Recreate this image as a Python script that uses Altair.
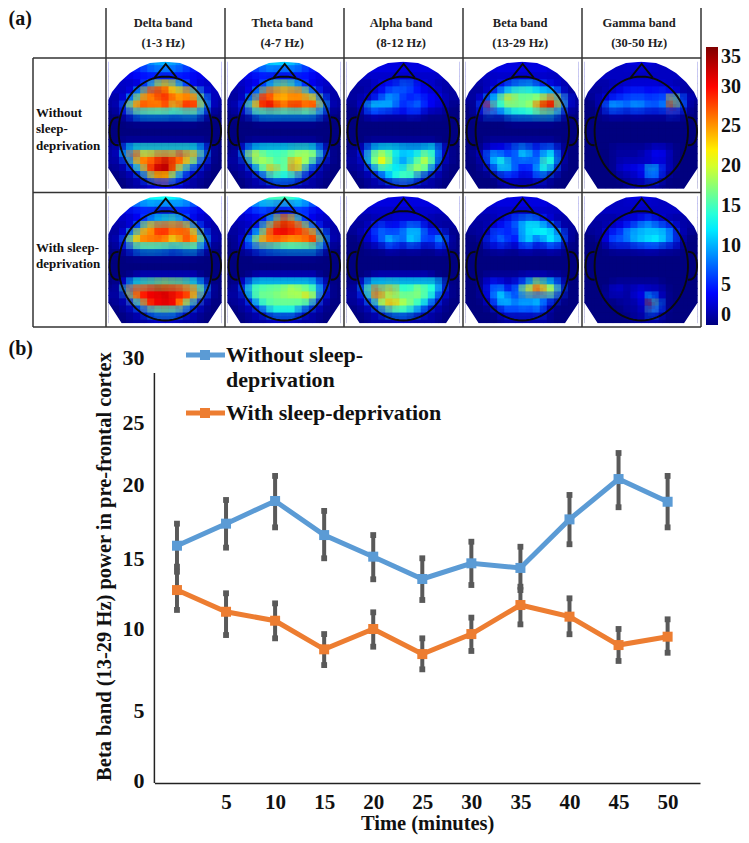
import math
import altair as alt
import pandas as pd

Z = [0] * 16
delta_without = [
 [4,4,4,5,6,8,9,10,10,9,8,6,5,4,4,4],[3,3,4,4,5,6,7,7,7,7,6,5,4,4,3,3],[2,2,3,3,4,4,4,3,3,4,4,4,3,3,2,2],
 [2,2,2,2,3,8,16,21,22,18,10,5,3,2,2,2],[2,2,2,4,13,26,30,31,28,23,25,24,15,5,2,2],[1,1,4,13,25,26,24,27,28,26,25,27,26,14,3,1],
 [1,2,8,22,28,27,27,26,28,19,29,29,28,14,3,1],[0,1,3,8,12,13,13,13,13,11,13,13,13,6,1,0],[0,0,0,1,1,1,1,1,1,1,1,1,1,0,0,0],
 Z,Z,[0,0,1,1,1,1,1,1,1,1,1,1,1,1,0,0],[1,2,8,13,14,14,14,14,14,14,14,14,13,8,2,0],[1,2,12,30,26,23,26,27,27,26,30,24,26,10,1,0],
 [1,1,3,13,24,28,28,32,33,28,24,18,11,4,1,0],[0,1,1,4,12,25,31,33,32,25,14,6,3,1,0,0],[0,0,1,1,3,9,20,24,22,12,5,2,1,1,0,0],[0,0,0,1,1,2,3,4,4,3,2,1,1,0,0,0]]
delta_with = [
 [5,6,8,10,11,12,13,13,13,12,11,10,8,6,5,4],[3,4,5,6,7,8,8,7,7,8,8,7,5,4,3,3],[2,2,3,3,4,4,3,2,2,3,4,4,3,3,2,2],
 [2,2,2,3,4,8,11,13,14,15,11,5,3,2,2,2],[1,1,2,3,10,22,26,28,28,27,28,20,9,3,1,1],[1,1,4,14,24,26,26,30,27,25,27,28,22,9,2,1],
 [1,2,8,21,25,26,26,25,24,20,26,27,25,12,2,1],[0,1,3,8,12,13,13,12,11,9,12,13,13,5,1,0],[0,0,0,1,1,1,1,1,1,1,1,1,1,0,0,0],
 Z,Z,[0,0,0,1,2,2,2,2,2,2,2,2,2,0,0,0],[0,1,4,13,14,16,16,18,18,17,17,15,13,7,1,0],[1,1,15,30,28,30,31,33,31,31,29,27,26,14,2,0],
 [1,1,3,18,28,30,31,30,32,29,29,27,18,5,1,0],[0,1,1,5,13,26,30,31,31,30,22,13,5,1,0,0],[0,0,1,1,3,8,13,14,14,13,7,3,1,1,0,0],[0,0,0,1,1,1,2,2,2,2,1,1,1,0,0,0]]
theta_without = [
 [4,4,5,6,8,10,11,11,11,10,8,6,5,4,4,3],[3,3,4,5,6,7,7,6,6,7,6,5,4,3,3,3],[2,2,3,3,4,4,3,3,3,3,4,4,3,3,2,2],
 [2,2,2,3,4,9,14,17,17,14,9,4,3,2,2,2],[1,1,2,4,12,26,28,26,26,27,25,15,7,3,1,1],[1,1,3,12,28,30,25,23,24,25,25,26,22,9,2,1],
 [1,2,6,18,25,31,31,28,27,31,28,26,30,14,2,1],[0,1,2,7,12,13,13,13,13,13,13,13,12,6,1,0],[0,0,0,0,1,1,1,1,1,1,1,1,1,0,0,0],
 Z,Z,[0,0,0,1,1,1,1,1,1,1,1,1,1,0,0,0],[0,1,5,11,12,13,13,13,13,14,14,14,12,6,1,0],[1,1,10,22,20,17,16,16,17,19,20,20,18,8,1,0],
 [1,1,2,11,18,18,17,14,17,26,20,15,8,2,1,0],[0,1,1,3,11,17,25,17,16,26,17,6,2,1,0,0],[0,0,1,1,3,7,13,12,12,11,6,2,1,1,0,0],[0,0,0,1,1,1,2,2,2,2,1,1,1,0,0,0]]
theta_with = [
 [5,6,8,10,12,14,15,15,15,14,12,10,8,6,5,4],[3,4,5,7,8,9,8,7,7,8,9,7,5,4,3,3],[2,3,3,4,5,5,3,3,3,4,5,4,3,3,2,2],
 [2,2,2,3,3,5,14,24,26,20,10,4,3,2,2,2],[1,1,2,2,6,17,28,32,32,30,27,17,7,3,1,1],[1,1,2,6,13,26,29,30,29,28,28,28,24,10,2,1],
 [0,1,4,13,24,25,26,25,24,24,25,26,31,14,2,1],[0,1,2,5,8,10,11,12,13,13,13,13,13,6,1,0],[0,0,0,0,1,1,1,1,1,1,1,1,1,0,0,0],
 Z,Z,[0,0,0,1,2,2,2,2,2,2,2,2,2,0,0,0],[0,1,4,11,13,13,13,13,13,13,13,13,11,5,1,0],[1,1,8,15,17,17,18,18,20,21,19,18,15,7,1,0],
 [1,1,2,11,16,16,16,17,17,17,18,23,16,4,1,0],[0,1,1,4,11,15,16,16,16,16,15,12,5,1,0,0],[0,0,1,1,3,7,12,12,12,12,6,2,1,1,0,0],[0,0,0,1,1,1,2,2,2,2,1,1,1,0,0,0]]
alpha_without = [
 [2,2,3,3,3,3,3,3,3,3,3,3,3,3,2,2],[2,2,2,3,3,3,3,3,3,3,3,3,3,2,2,2],[2,2,2,2,2,2,2,2,2,2,2,2,2,2,2,2],
 [1,1,1,1,3,4,5,6,8,6,4,3,2,1,1,1],[1,1,1,2,3,5,8,7,6,5,4,3,3,2,1,1],[1,1,2,3,6,9,10,7,5,5,7,4,4,3,1,1],
 [0,1,3,13,11,10,9,6,5,8,7,4,3,2,1,0],[0,0,1,4,4,3,3,3,3,5,3,1,1,1,0,0],Z,
 Z,Z,[0,0,0,1,1,1,1,1,1,1,1,1,1,0,0,0],[0,1,3,10,12,13,13,12,11,11,11,12,13,5,1,0],[1,1,5,15,20,21,15,11,10,12,15,19,12,3,1,0],
 [1,1,2,13,19,22,14,10,9,15,18,20,12,2,1,0],[0,1,1,4,11,13,12,13,15,18,18,13,4,1,0,0],[0,0,1,1,3,7,12,15,15,12,6,2,1,1,0,0],[0,0,0,1,1,1,2,3,3,2,1,1,1,0,0,0]]
alpha_with = [
 [2,2,3,3,3,3,3,3,3,3,3,3,3,3,2,2],[2,2,2,3,3,3,3,3,3,3,3,3,3,2,2,2],[2,2,2,2,2,2,2,2,2,2,2,2,2,2,2,2],
 [1,1,1,1,2,2,2,3,3,3,3,2,1,1,1,1],[1,1,1,3,6,6,4,5,7,9,7,3,2,1,1,1],[0,1,2,4,7,8,7,8,9,12,10,6,5,6,1,0],
 [0,0,1,3,5,8,12,6,8,12,7,5,7,11,3,0],[0,0,0,1,1,2,4,2,2,3,2,1,2,4,1,0],Z,
 Z,Z,[0,0,0,1,2,2,2,2,2,2,2,2,1,0,0,0],[0,1,5,12,13,13,14,13,13,13,13,13,13,8,1,0],[1,1,9,18,30,18,26,17,14,17,19,15,14,6,1,0],
 [1,1,4,14,27,18,18,17,17,17,16,14,10,3,1,0],[0,1,1,5,13,21,26,21,18,16,13,9,3,1,0,0],[0,0,1,1,3,8,12,13,12,10,6,2,1,1,0,0],[0,0,0,1,1,1,1,2,2,1,1,1,1,0,0,0]]
beta_without = [
 [2,2,2,3,3,3,3,3,3,3,3,3,3,2,2,2],[2,2,2,2,3,3,3,3,3,3,3,3,2,2,2,2],[2,2,2,2,2,2,2,2,2,2,2,2,2,2,2,2],
 [1,1,1,2,3,5,8,9,10,10,7,5,3,2,1,1],[1,1,1,3,7,11,14,15,15,14,13,12,12,5,1,1],[1,1,4,10,12,20,23,17,17,18,20,25,27,16,5,1],
 [0,1,7,30,12,14,16,16,17,18,28,32,31,15,3,1],[0,1,3,9,5,8,11,12,12,13,14,14,13,6,1,0],[0,0,0,0,0,0,1,1,1,1,1,1,1,0,0,0],
 Z,Z,[0,0,0,1,1,1,1,1,1,1,1,1,1,0,0,0],[0,0,1,3,4,4,6,8,9,6,5,8,7,2,0,0],[0,1,3,9,11,8,6,8,13,8,7,13,13,3,0,0],
 [0,0,1,6,12,14,9,6,6,6,9,16,12,2,0,0],[0,0,1,2,7,10,9,6,4,6,11,13,6,1,0,0],[0,0,0,0,1,3,4,3,2,3,6,2,1,0,0,0],[0,0,0,0,0,1,1,1,1,1,1,1,0,0,0,0]]
beta_with = [
 [2,2,2,3,3,3,3,3,3,3,3,3,3,2,2,2],[2,2,2,2,3,3,3,3,3,3,3,3,2,2,2,2],[2,2,2,2,2,2,2,2,2,2,2,2,2,2,2,2],
 [1,1,1,1,2,3,5,7,8,9,7,4,2,1,1,1],[1,1,1,2,4,5,6,8,12,13,13,11,8,2,1,1],[0,1,1,3,8,5,5,6,11,11,12,13,12,9,2,0],
 [0,0,1,6,5,9,4,5,12,10,5,11,12,8,2,0],[0,0,0,2,2,3,1,2,4,3,2,3,4,2,0,0],Z,
 Z,Z,[0,0,0,1,1,1,1,1,2,2,2,2,1,1,0,0],[0,0,1,4,5,3,2,5,8,14,20,12,11,5,0,0],[0,0,1,5,10,8,4,10,20,24,30,22,20,8,0,0],
 [0,0,1,4,10,12,8,6,8,8,10,8,8,2,0,0],[0,0,0,2,6,10,9,9,11,9,11,4,1,0,0,0],[0,0,0,0,1,4,6,5,6,5,7,2,0,0,0,0],[0,0,0,0,0,1,1,1,1,1,1,1,0,0,0,0]]
gamma_without = [
 [2,2,2,2,2,2,3,3,3,3,2,2,2,2,2,2],[2,2,2,2,2,2,2,2,2,2,2,2,2,2,2,2],[2,2,2,2,2,2,2,2,2,2,2,2,2,2,2,2],
 [1,1,1,1,2,2,3,3,3,3,3,2,2,1,1,1],[1,1,1,2,3,4,5,5,5,4,5,5,4,2,1,1],[0,1,2,4,6,6,7,7,7,6,7,7,22,10,3,1],
 [0,0,2,9,11,8,8,10,8,7,7,9,32,9,2,0],[0,0,1,2,3,2,2,3,2,2,2,2,6,2,1,0],Z,
 Z,Z,Z,[0,0,0,0,1,1,1,1,1,2,3,2,1,0,0,0],[0,0,0,0,1,1,1,1,2,3,4,3,1,0,0,0],
 [0,0,0,0,1,2,2,2,2,2,3,2,1,0,0,0],[0,0,0,0,1,3,3,4,5,13,8,3,1,0,0,0],[0,0,0,0,0,1,1,2,3,8,5,1,0,0,0,0],[0,0,0,0,0,0,1,1,1,1,1,0,0,0,0,0]]
gamma_with = [
 [2,2,2,2,2,2,3,3,3,3,2,2,2,2,2,2],[2,2,2,2,2,2,2,2,2,2,2,2,2,2,2,2],[2,2,2,2,2,2,2,2,2,2,2,2,2,2,2,2],
 [1,1,1,1,1,2,3,3,5,6,3,2,1,1,1,1],[1,1,1,2,3,4,6,8,10,10,8,7,5,2,1,1],[0,1,1,4,6,7,11,10,11,11,12,11,8,2,1,0],
 [0,0,1,4,8,6,8,10,11,12,12,9,7,2,0,0],[0,0,0,1,2,2,2,3,3,4,3,2,2,1,0,0],Z,
 Z,Z,Z,[0,0,0,0,1,1,1,1,1,1,1,0,0,0,0,0],[0,0,0,1,3,2,1,3,3,2,2,1,0,0,0,0],
 [0,0,0,1,1,1,1,3,3,12,3,1,0,0,0,0],[0,0,0,0,0,1,1,1,3,33,10,1,0,0,0,0],[0,0,0,0,0,0,1,1,2,10,5,1,0,0,0,0],[0,0,0,0,0,0,0,1,1,1,1,0,0,0,0,0]]

band_names = ["Delta band", "Theta band", "Alpha band", "Beta band", "Gamma band"]
band_ranges = ["(1-3 Hz)", "(4-7 Hz)", "(8-12 Hz)", "(13-29 Hz)", "(30-50 Hz)"]
panels = [[delta_without, theta_without, alpha_without, beta_without, gamma_without],
          [delta_with, theta_with, alpha_with, beta_with, gamma_with]]
colorbar_ticks = [0, 5, 10, 15, 20, 25, 30, 35]

minutes = [0, 5, 10, 15, 20, 25, 30, 35, 40, 45, 50]
without_mean = [15.83, 17.32, 18.85, 16.55, 15.09, 13.5, 14.62, 14.29, 17.61, 20.4, 18.8]
without_hi = [17.32, 18.92, 20.65, 18.18, 16.55, 14.98, 16.1, 15.76, 19.26, 22.5, 20.65]
without_lo = [14.02, 15.7, 17.07, 14.98, 13.48, 12.0, 13.07, 12.71, 15.93, 18.43, 17.07]
with_mean = [12.71, 11.16, 10.52, 8.7, 9.94, 8.41, 9.63, 11.64, 10.81, 8.96, 9.47]
with_hi = [14.38, 12.48, 11.76, 9.63, 11.12, 9.37, 10.74, 12.95, 12.12, 9.94, 10.62]
with_lo = [11.29, 9.57, 9.37, 7.74, 8.86, 7.48, 8.6, 10.26, 9.62, 7.99, 8.49]
y_ticks = [0, 5, 10, 15, 20, 25, 30]

SERIF = "Liberation Serif"
BLUE = "#5b9bd5"
ORANGE = "#ed7d31"
GREY = "#595959"
W, H = 733, 827

# table coordinates: one unit per band column / per condition row
CW, CH = 119.0, 134.5
NC, NR = 16, 18
ML, MW, MT, MH = 2.3, 113.4, 3.7, 127.0

cell_rows, soft_rows, top_rows, bot_rows, out_rows = [], [], [], [], []
dome = [(2.3,42),(6,34),(14,24),(24,15),(34,9),(44,5),(59,3.7),(74,5),(84,9),(94,15),(104,24),(112,34),(115.7,42)]
floor = [(2.3,110),(15.7,130.7),(102,130.7),(115.7,110)]
dx, dy = MW / NC, MH / NR
for r, row in enumerate(panels):
    for c, grid in enumerate(row):
        assert len(grid) == NR and all(len(g) == NC for g in grid)
        for j, g in enumerate(grid):
            for i, v in enumerate(g):
                cell_rows.append(dict(
                    x=c + (ML + i * dx) / CW, x2=c + (ML + min(i + 1.1, NC) * dx) / CW,
                    y=r + (MT + j * dy) / CH, y2=r + (MT + min(j + 1.1, NR) * dy) / CH, v=v))
                soft_rows.append(dict(
                    x=c + (ML + max(i - 0.5, 0.1) * dx) / CW, x2=c + (ML + min(i + 1.5, NC - 0.1) * dx) / CW,
                    y=r + (MT + max(j - 0.5, 0) * dy) / CH, y2=r + (MT + min(j + 1.5, NR) * dy) / CH, v=v))
        pid = f"{r}-{c}"
        for px, py in dome:
            top_rows.append(dict(p=pid, x=c + px / CW, y=r + 1 / CH, y2=r + py / CH))
        for px, py in floor:
            bot_rows.append(dict(p=pid, x=c + px / CW, y=r + py / CH, y2=r + 132.5 / CH))
        cx, cy, rx, ry = 59.3, 73.3, 46.7, 54.7
        ell = [(cx + rx * math.sin(2 * math.pi * k / 72), cy - ry * math.cos(2 * math.pi * k / 72)) for k in range(73)]
        nose = [(48.7, 19.7), (59.7, 6), (70.7, 19.7)]
        ear_l = [(cx - rx - 9 * math.sin(math.pi * k / 16) ** 0.7, cy - 14 * math.cos(math.pi * k / 16)) for k in range(17)]
        ear_r = [(cx + rx + 9 * math.sin(math.pi * k / 16) ** 0.7, cy - 14 * math.cos(math.pi * k / 16)) for k in range(17)]
        for name, pts in [("e", ell), ("n", nose), ("l", ear_l), ("r", ear_r)]:
            for k, (px, py) in enumerate(pts):
                out_rows.append(dict(p=f"{pid}{name}", k=k, x=c + px / CW, y=r + py / CH))

xs = alt.Scale(domain=[0, 5], range=[98, 693], nice=False, zero=False)
ys = alt.Scale(domain=[0, 2], range=[50, 319], nice=False, zero=False)
X = lambda f="x": alt.X(f"{f}:Q", scale=xs, axis=None)
Y = lambda f="y": alt.Y(f"{f}:Q", scale=ys, axis=None)

jet = alt.Scale(domain=[0, 3.9, 12.7, 21.5, 30.1, 35],
                range=["#00007f", "#0000ff", "#00ffff", "#ffff00", "#ff0000", "#7f0000"], interpolate="rgb")
cells = alt.Chart(pd.DataFrame(cell_rows)).mark_rect().encode(
    x=X(), x2="x2:Q", y=Y(), y2="y2:Q",
    color=alt.Color("v:Q", scale=jet, title=None, legend=alt.Legend(
        orient="none", legendX=698, legendY=39, gradientLength=278, gradientThickness=12, direction="vertical",
        values=colorbar_ticks, labelFont=SERIF, labelFontWeight="bold", labelFontSize=20, labelColor="#111",
        labelOffset=3, gradientStrokeWidth=0, gradientOpacity=1, labelOverlap=False)))
soft = alt.Chart(pd.DataFrame(soft_rows)).mark_rect(opacity=0.36).encode(
    x=X(), x2="x2:Q", y=Y(), y2="y2:Q", color=alt.Color("v:Q", scale=jet, title=None, legend=None))
soft_back = alt.Chart(pd.DataFrame(soft_rows[::-1])).mark_rect(opacity=0.22).encode(
    x=X(), x2="x2:Q", y=Y(), y2="y2:Q", color=alt.Color("v:Q", scale=jet, title=None, legend=None))
mask_top = alt.Chart(pd.DataFrame(top_rows)).mark_area(color="white").encode(x=X(), y=Y(), y2="y2:Q", detail="p:N")
mask_bot = alt.Chart(pd.DataFrame(bot_rows)).mark_area(color="white").encode(x=X(), y=Y(), y2="y2:Q", detail="p:N")
outline = alt.Chart(pd.DataFrame(out_rows)).mark_line(color="#0a0a0a", strokeWidth=1.9).encode(
    x=X(), y=Y(), detail="p:N", order="k:Q")

y_head = (6 - 58) / CH
x_lab = (33 - 106) / CW
hlines = pd.DataFrame(dict(x=[0, x_lab, x_lab, x_lab], x2=[5, 5, 5, 5], y=[y_head, 0, 1, 2]))
vlines = pd.DataFrame(dict(x=[x_lab, 0, 1, 2, 3, 4, 5], y=[0, y_head, y_head, y_head, y_head, y_head, y_head], y2=[2] * 7))
rules_h = alt.Chart(hlines).mark_rule(color="#333", strokeWidth=1.5).encode(x=X(), x2="x2:Q", y=Y())
rules_v = alt.Chart(vlines).mark_rule(color="#333", strokeWidth=1.5).encode(x=X(), y=Y(), y2="y2:Q")

head_txt = pd.DataFrame(
    [dict(x=i + 0.48, y=(23 - 58) / CH, t=n) for i, n in enumerate(band_names)] +
    [dict(x=i + 0.48, y=(43 - 58) / CH, t=n) for i, n in enumerate(band_ranges)])
head = alt.Chart(head_txt).mark_text(font=SERIF, fontWeight="bold", fontSize=12.5, color="#222").encode(x=X(), y=Y(), text="t:N")
side_txt = pd.DataFrame([
    dict(x=(36 - 106) / CW, y=(113 - 58) / CH, t="Without"), dict(x=(36 - 106) / CW, y=(129 - 58) / CH, t="sleep-"),
    dict(x=(36 - 106) / CW, y=(146 - 58) / CH, t="deprivation"), dict(x=(36 - 106) / CW, y=(248 - 58) / CH, t="With sleep-"),
    dict(x=(36 - 106) / CW, y=(264 - 58) / CH, t="deprivation")])
side = alt.Chart(side_txt).mark_text(font=SERIF, fontWeight="bold", fontSize=13, color="#111", align="left").encode(x=X(), y=Y(), text="t:N")
tag_txt = pd.DataFrame([dict(x=(8.5 - 106) / CW, y=(19 - 58) / CH, t="(a)"), dict(x=(8.5 - 106) / CW, y=(349 - 58) / CH, t="(b)")])
tags = alt.Chart(tag_txt).mark_text(font=SERIF, fontWeight="bold", fontSize=20, color="#111", align="left").encode(x=X(), y=Y(), text="t:N")
top = alt.layer(cells, soft_back, soft, mask_top, mask_bot, outline, rules_h, rules_v, head, side, tags)

# line chart
tx = alt.Scale(domain=[-2.3, 53.3], range=[146.4, 692], nice=False, zero=False)
ty = alt.Scale(domain=y_ticks, range=[772, 702, 620, 550, 476, 414, 349.7], nice=False, zero=False)
AX_FONT = dict(labelFont=SERIF, labelFontWeight="bold", labelColor="#111", titleFont=SERIF, titleFontWeight="bold", titleColor="#111")
XA = alt.X("t:Q", scale=tx, axis=alt.Axis(
    orient="bottom", offset=775 - H, values=minutes[1:], ticks=False, grid=False, domainColor="#222", domainWidth=1.5,
    labelFontSize=21, labelPadding=8, labelOverlap=False, labelFlush=False, format="d", title="Time (minutes)", titleFontSize=20.5, titlePadding=1, **AX_FONT))
YA = alt.Y("v:Q", scale=ty, axis=alt.Axis(
    orient="left", offset=-136, values=y_ticks, ticks=False, grid=False, domain=False, labelPadding=0,
    labelFontSize=22, labelOverlap=False, labelFlush=False, title="Beta band (13-29 Hz) power in pre-frontal cortex",
    titleFontSize=20.5, titlePadding=8, titleY=558, **AX_FONT))

long = pd.DataFrame(
    [dict(t=t, v=m, hi=h, lo=l, s="Without sleep-deprivation") for t, m, h, l in zip(minutes, without_mean, without_hi, without_lo)] +
    [dict(t=t, v=m, hi=h, lo=l, s="With sleep-deprivation") for t, m, h, l in zip(minutes, with_mean, with_hi, with_lo)])
col = alt.Color("s:N", scale=alt.Scale(domain=["Without sleep-deprivation", "With sleep-deprivation"], range=[BLUE, ORANGE]), legend=None)
base = alt.Chart(long)
bars = base.mark_rule(color=GREY, strokeWidth=4).encode(x=alt.X("t:Q", scale=tx), y=alt.Y("lo:Q", scale=ty), y2="hi:Q")
cap_hi = base.mark_point(shape="square", filled=True, color=GREY, opacity=1, size=34).encode(x=alt.X("t:Q", scale=tx), y=alt.Y("hi:Q", scale=ty))
cap_lo = base.mark_point(shape="square", filled=True, color=GREY, opacity=1, size=34).encode(x=alt.X("t:Q", scale=tx), y=alt.Y("lo:Q", scale=ty))
line = base.mark_line(strokeWidth=5).encode(x=XA, y=YA, color=col, detail="s:N")
pts = base.mark_point(shape="square", filled=True, opacity=1, size=100).encode(x=alt.X("t:Q", scale=tx), y=alt.Y("v:Q", scale=ty), color=col)

yrule = alt.Chart(pd.DataFrame({"a": [0]})).mark_rule(color="#222", strokeWidth=1.5).encode(
    x=alt.value(146.4), y=alt.value(365), y2=alt.value(775))
bottom = [bars, cap_hi, cap_lo, line, pts, yrule]
for c_, ly in [(BLUE, 347), (ORANGE, 405)]:
    d = alt.Chart(pd.DataFrame({"a": [0]}))
    bottom.append(d.mark_rule(color=c_, strokeWidth=5).encode(x=alt.value(178), x2=alt.value(217), y=alt.value(ly)))
    bottom.append(d.mark_point(shape="square", filled=True, color=c_, opacity=1, size=100).encode(x=alt.value(197), y=alt.value(ly)))
for t_, ty_ in [("Without sleep-", 347), ("deprivation", 372), ("With sleep-deprivation", 405)]:
    bottom.append(alt.Chart(pd.DataFrame({"a": [t_]})).mark_text(font=SERIF, fontWeight="bold", fontSize=22, color="#111", align="left").encode(
        x=alt.value(218), y=alt.value(ty_), text="a:N"))
lower = alt.layer(*bottom)

chart = alt.layer(top, lower).resolve_scale(x="independent", y="independent", color="independent").properties(
    width=W, height=H, padding=0, autosize=alt.AutoSizeParams(type="none")).configure_view(stroke=None)
chart.save("out.html", embed_options={"renderer": "svg", "actions": False})
